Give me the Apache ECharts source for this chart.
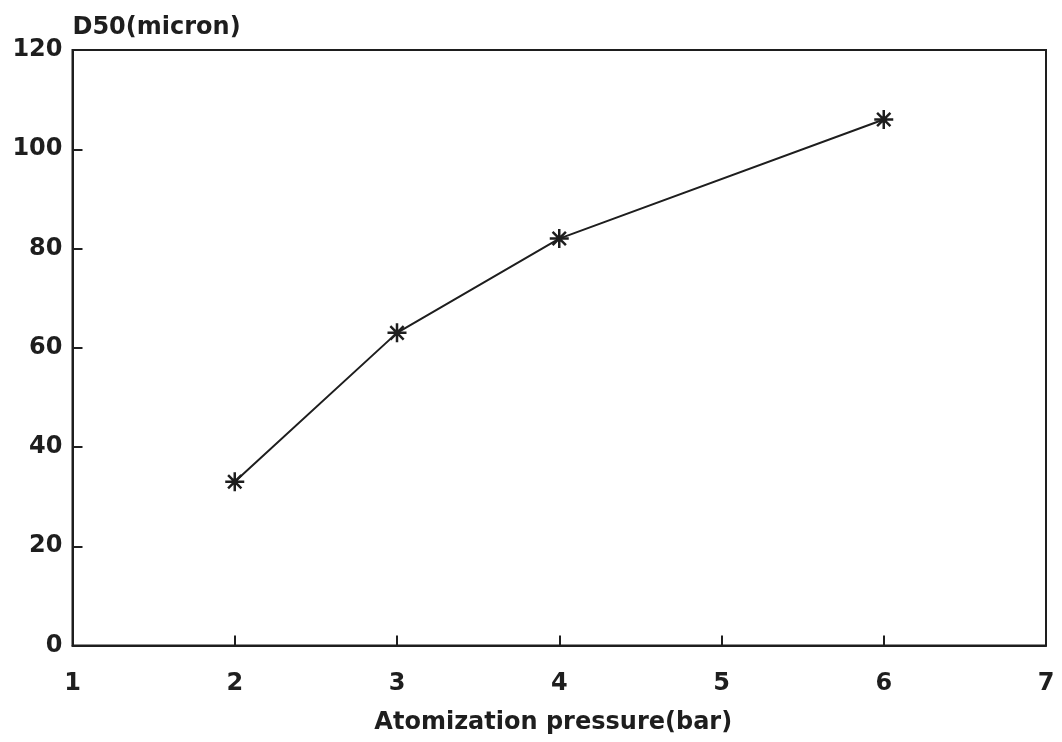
<!DOCTYPE html>
<html>
<head>
<meta charset="utf-8">
<script src="https://cdn.jsdelivr.net/npm/echarts@6/dist/echarts.min.js"></script>
<style>
  html, body { margin: 0; padding: 0; background: #fff; }
  #chart { width: 1062px; height: 742px; }
</style>
</head>
<body>
<div id="chart"></div>
<script>
// Median particle size against atomization pressure
const pressureBar = [2, 3, 4, 6];
const d50Micron = [33, 63, 82, 106];
const xTicks = [1, 2, 3, 4, 5, 6, 7];
const yTicks = [0, 20, 40, 60, 80, 100, 120];

const ink = '#1e1e1e';
const font = 'DejaVu Sans';
// eight-spoke asterisk marker
const asterisk = 'path://M0,-10L0,10M-10,0L10,0M-7,-7L7,7M-7,7L7,-7';

const chart = echarts.init(document.getElementById('chart'), null, { renderer: 'canvas' });
chart.setOption({
  backgroundColor: '#fff',
  animation: false,
  grid: {
    left: 72.5, right: 16, top: 50, bottom: 96.5,
    show: true, borderColor: ink, borderWidth: 2, backgroundColor: 'transparent'
  },
  xAxis: {
    type: 'value',
    min: xTicks[0], max: xTicks[xTicks.length - 1], interval: 1,
    name: 'Atomization pressure(bar)',
    nameLocation: 'middle',
    nameGap: 65,
    nameTextStyle: { color: ink, fontFamily: font, fontWeight: 'bold', fontSize: 24, padding: [0, 12, 0, 0] },
    axisLine: { show: true, lineStyle: { color: ink, width: 2 } },
    axisTick: { show: true, inside: false, length: -10, lineStyle: { color: ink, width: 2 } },
    axisLabel: { color: ink, fontFamily: font, fontWeight: 'bold', fontSize: 24, margin: 26 },
    splitLine: { show: false }
  },
  yAxis: {
    type: 'value',
    min: yTicks[0], max: yTicks[yTicks.length - 1], interval: 20,
    name: 'D50(micron)',
    nameLocation: 'end',
    nameGap: 10,
    nameTextStyle: { color: ink, fontFamily: font, fontWeight: 'bold', fontSize: 24, align: 'left' },
    axisLine: { show: true, lineStyle: { color: ink, width: 2 } },
    axisTick: { show: true, inside: false, length: -10, lineStyle: { color: ink, width: 2 } },
    axisLabel: { color: ink, fontFamily: font, fontWeight: 'bold', fontSize: 24, margin: 10 },
    splitLine: { show: false }
  },
  series: [{
    type: 'line',
    data: pressureBar.map((p, i) => [p, d50Micron[i]]),
    lineStyle: { color: ink, width: 2 },
    symbol: asterisk,
    symbolSize: 19,
    itemStyle: { color: ink, borderColor: ink, borderWidth: 2.5 },
    z: 3
  }]
});
</script>
</body>
</html>
